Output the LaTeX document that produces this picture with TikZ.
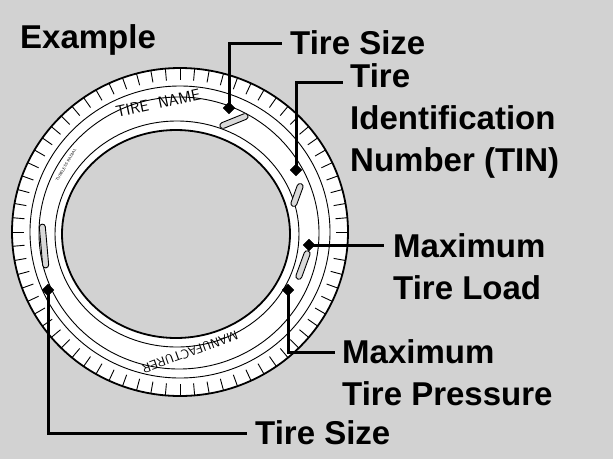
\documentclass[tikz,border=0pt]{standalone}
\usepackage{fontspec}
\setmainfont{Liberation Sans}
\usetikzlibrary{positioning,shapes.geometric}
\begin{document}
\begin{tikzpicture}[x=1pt,y=-1pt,
lbl/.style={font=\bfseries\fontsize{33}{42}\selectfont,anchor=west,inner sep=0pt,align=left},
lead/.style={line width=3pt},
tip/.style={fill=black,draw=black,diamond,minimum size=12pt,inner sep=0pt,shape aspect=1},
ring/.style={line width=0.9pt}]
\useasboundingbox (0,0) rectangle (613,459);
\fill[gray!35] (0,0) rectangle (613,459);
% tire
\fill[white,draw=black,line width=1.8pt] (180,232) ellipse (168 and 164);
\foreach \a in {0,5,...,355}{
  \draw[ring] ({180+168*cos(\a)},{232+164*sin(\a)}) -- ({180+156*cos(\a)},{232+152*sin(\a)});
}
\draw[ring] (180,232) ellipse (150 and 146);
\draw[ring] (179,233) ellipse (140 and 136);
\draw[ring] (177,234) ellipse (122 and 113);
\fill[gray!35,draw=black,line width=1.8pt] (176,234) ellipse (114 and 104);
% sidewall text
\node[font=\sffamily\fontsize{16}{16}\selectfont,rotate=12] (name) at (158,103) {TIRE\ \ NAME};
\node[font=\sffamily\fontsize{13}{13}\selectfont,rotate=200] (mfr) at (190,352) {MANUFACTURER};
\node[font=\sffamily\fontsize{4}{4}\selectfont,rotate=60,inner sep=0pt] (rad) at (66,165) {TUBELESS\ RADIAL};
% slots
\foreach \x/\y/\r/\l in {234/121/22/30, 297/195/70/24, 303/265/70/30, 44/246/95/44}{
  \draw[fill=gray!30,line width=0.9pt,rounded corners=3pt,rotate around={\r:(\x,\y)}]
    ({\x-\l/2},{\y-3}) rectangle ({\x+\l/2},{\y+3});
}
% labels
\node[lbl] (ex) at (20,40) {Example};
\node[lbl] (size1) at (290,43) {Tire Size};
\node[lbl] (tin) at (350,121) {Tire\\Identification\\Number (TIN)};
\node[lbl] (load) at (393,267) {Maximum\\Tire Load};
\node[lbl] (pres) at (342,373) {Maximum\\Tire Pressure};
\node[lbl] (size2) at (255,433) {Tire Size};
% leaders
\node[tip] (d1) at (229,108) {};
\node[tip] (d2) at (296,170) {};
\node[tip] (d3) at (309,245) {};
\node[tip] (d4) at (288,290) {};
\node[tip] (d5) at (48,290) {};
\draw[lead] (d1.center) |- ([xshift=-8pt]size1.west);
\draw[lead] (d2.center) |- (343,82);
\draw[lead] (d3.center) -- (384,245);
\draw[lead] (d4.center) |- (335,352);
\draw[lead] (d5.center) |- ([xshift=-8pt]size2.west);
\end{tikzpicture}
\end{document}
